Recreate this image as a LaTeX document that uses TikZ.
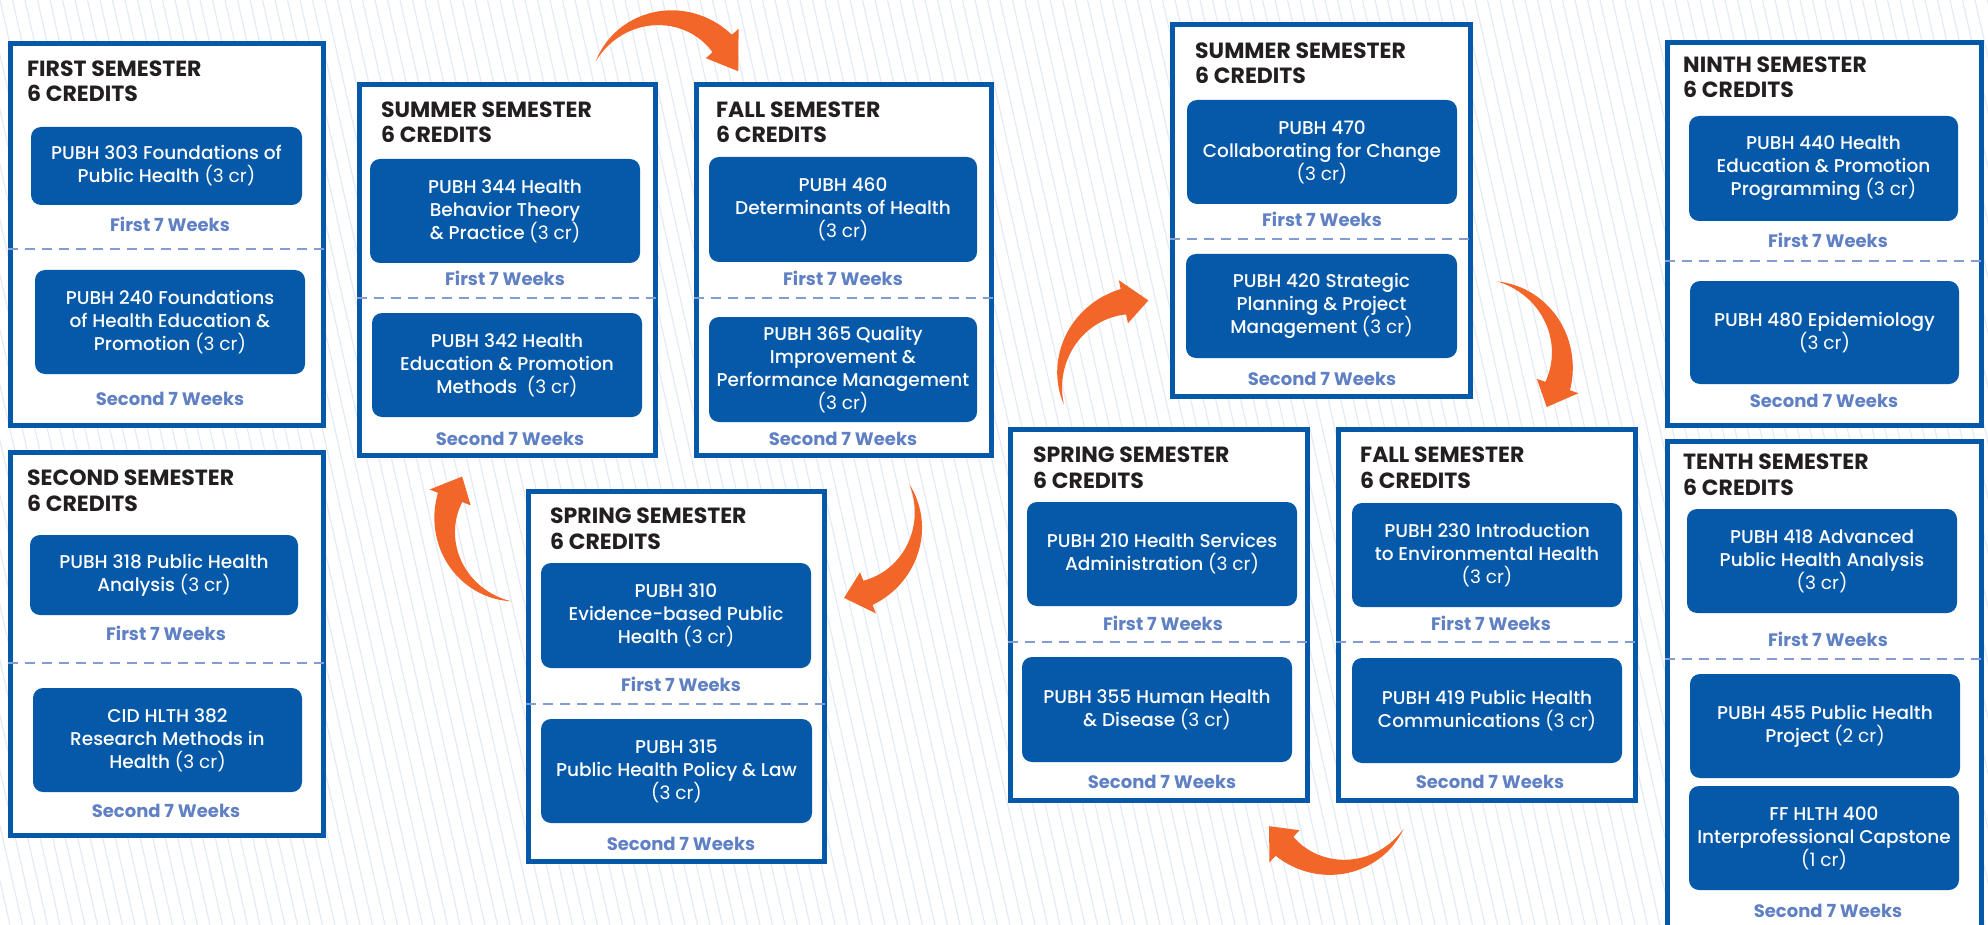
\documentclass[tikz,border=0pt]{standalone}
\usepackage{fontspec}
\setmainfont{Poppins}[UprightFont=* Medium, BoldFont=* Bold]
\newfontfamily\lightfont{Poppins}
\definecolor{boxblue}{RGB}{6,89,168}
\definecolor{weekblue}{RGB}{96,128,196}
\definecolor{dashblue}{RGB}{132,156,210}
\definecolor{titleblack}{RGB}{35,31,32}
\definecolor{arroworange}{RGB}{242,103,41}
\definecolor{stripeblue}{RGB}{229,235,244}
\newcommand\coursesize{\fontsize{18.5}{23}\selectfont}
\newcommand\titlesize{\fontsize{22}{25.5}\selectfont\bfseries}
\newcommand\weekssize{\fontsize{18}{20}\selectfont\bfseries}
\newcommand\credit[1]{{\lightfont(#1 cr)}}
\def\bendarrow(#1,#2)(#3:#4:#5:#6){\fill[bigarrow] plot[samples=40, domain=#4:#5] ({#1+(#3+13*(\x-(#4))/(#5-(#4)))*cos(\x)},{#2+(#3+13*(\x-(#4))/(#5-(#4)))*sin(\x)}) -- ({#1+(#3+22)*cos(#5)},{#2+(#3+22)*sin(#5)}) -- ({#1+#3*cos(#6)},{#2+#3*sin(#6)}) -- ({#1+(#3-22)*cos(#5)},{#2+(#3-22)*sin(#5)}) -- plot[samples=40, domain=#5:#4] ({#1+(#3-13*(\x-(#4))/(#5-(#4)))*cos(\x)},{#2+(#3-13*(\x-(#4))/(#5-(#4)))*sin(\x)}) -- cycle;}
\tikzset{
  semframe/.style={draw=boxblue, line width=5pt, fill=white},
  course/.style={fill=boxblue, rounded corners=10pt, text=white, align=center, font=\coursesize, inner sep=0pt},
  semtitle/.style={anchor=base west, align=left, font=\titlesize, text=titleblack, inner sep=0pt},
  weeks/.style={anchor=base, font=\weekssize, text=weekblue, inner sep=0pt},
  split/.style={draw=dashblue, line width=2.5pt, dash pattern=on 10pt off 7pt},
  bigarrow/.style={fill=arroworange},
  stripe/.style={draw=stripeblue, line width=1.2pt},
}
\begin{document}
\begin{tikzpicture}[x=1pt, y=-1pt]
	%%%%% BACKGROUND %%%%%
	\useasboundingbox (0,0) rectangle (1988,925);
	\clip (0,0) rectangle (1988,925);
	\fill[white] (0,0) rectangle (1988,925);
	\foreach \s in {-18,...,160} \draw[stripe] ({\s*12.5},0) -- ({\s*12.5+210},925);

	%%%%% FRAMES %%%%%
	\node[semframe, minimum width=313pt, minimum height=381pt] (f1) at (166.5,234.5) {};
	\node[semframe, minimum width=313pt, minimum height=383pt] (f2) at (166.5,643.5) {};
	\node[semframe, minimum width=296pt, minimum height=370pt] (f3) at (507,270) {};
	\node[semframe, minimum width=295pt, minimum height=370pt] (f4) at (843.5,270) {};
	\node[semframe, minimum width=296pt, minimum height=370pt] (f5) at (676,676) {};
	\node[semframe, minimum width=298pt, minimum height=371pt] (f6) at (1321,210.5) {};
	\node[semframe, minimum width=297pt, minimum height=371pt] (f7) at (1158.5,614.5) {};
	\node[semframe, minimum width=297pt, minimum height=371pt] (f8) at (1486.5,614.5) {};
	\node[semframe, minimum width=314pt, minimum height=382pt] (f9) at (1824,234) {};
	\node[semframe, minimum width=314pt, minimum height=504pt] (f10) at (1824,693) {};

	\draw[split] (f1.west |- 0,249) -- (f1.east |- 0,249);
	\draw[split] (f2.west |- 0,663) -- (f2.east |- 0,663);
	\draw[split] (f3.west |- 0,298) -- (f3.east |- 0,298);
	\draw[split] (f4.west |- 0,298) -- (f4.east |- 0,298);
	\draw[split] (f5.west |- 0,704) -- (f5.east |- 0,704);
	\draw[split] (f6.west |- 0,239) -- (f6.east |- 0,239);
	\draw[split] (f7.west |- 0,642) -- (f7.east |- 0,642);
	\draw[split] (f8.west |- 0,642) -- (f8.east |- 0,642);
	\draw[split] (f9.west |- 0,261) -- (f9.east |- 0,261);
	\draw[split] (f10.west |- 0,659) -- (f10.east |- 0,659);

	%%%%% TITLES %%%%%
	\node[semtitle] (t1) at (27,102) {FIRST SEMESTER\\6 CREDITS};
	\node[semtitle] (t2) at (27,511) {SECOND SEMESTER\\6 CREDITS};
	\node[semtitle] (t3) at (381,143) {SUMMER SEMESTER\\6 CREDITS};
	\node[semtitle] (t4) at (716,143) {FALL SEMESTER\\6 CREDITS};
	\node[semtitle] (t5) at (550,549) {SPRING SEMESTER\\6 CREDITS};
	\node[semtitle] (t6) at (1195,84) {SUMMER SEMESTER\\6 CREDITS};
	\node[semtitle] (t7) at (1033,488) {SPRING SEMESTER\\6 CREDITS};
	\node[semtitle] (t8) at (1360,488) {FALL SEMESTER\\6 CREDITS};
	\node[semtitle] (t9) at (1683,98) {NINTH SEMESTER\\6 CREDITS};
	\node[semtitle] (t10) at (1683,495) {TENTH SEMESTER\\6 CREDITS};

	%%%%% COURSES %%%%%
	\node[course, minimum width=271pt, minimum height=78pt] (p303) at (166.5,166) {PUBH 303 Foundations of\\Public Health \credit{3}};
	\node[course, minimum width=270pt, minimum height=104pt] (p240) at (170,322) {PUBH 240 Foundations\\of Health Education \&\\Promotion \credit{3}};
	\node[course, minimum width=268pt, minimum height=80pt] (p318) at (164,575) {PUBH 318 Public Health\\Analysis \credit{3}};
	\node[course, minimum width=269pt, minimum height=104pt] (h382) at (167.5,740) {CID HLTH 382\\Research Methods in\\Health \credit{3}};
	\node[course, minimum width=270pt, minimum height=104pt] (p344) at (505,211) {PUBH 344 Health\\Behavior Theory\\\& Practice \credit{3}};
	\node[course, minimum width=270pt, minimum height=104pt] (p342) at (507,365) {PUBH 342 Health\\Education \& Promotion\\Methods\ \ \credit{3}};
	\node[course, minimum width=268pt, minimum height=105pt] (p460) at (843,209.5) {PUBH 460\\Determinants of Health\\\credit{3}};
	\node[course, minimum width=268pt, minimum height=105pt] (p365) at (843,369.5) {PUBH 365 Quality\\Improvement \&\\Performance Management\\\credit{3}};
	\node[course, minimum width=270pt, minimum height=105pt] (p310) at (676,615.5) {PUBH 310\\Evidence-based Public\\Health \credit{3}};
	\node[course, minimum width=271pt, minimum height=104pt] (p315) at (676.5,771) {PUBH 315\\Public Health Policy \& Law\\\credit{3}};
	\node[course, minimum width=270pt, minimum height=104pt] (p470) at (1322,152) {PUBH 470\\Collaborating for Change\\\credit{3}};
	\node[course, minimum width=271pt, minimum height=104pt] (p420) at (1321.5,306) {PUBH 420 Strategic\\Planning \& Project\\Management \credit{3}};
	\node[course, minimum width=270pt, minimum height=104pt] (p210) at (1162,554) {PUBH 210 Health Services\\Administration \credit{3}};
	\node[course, minimum width=270pt, minimum height=105pt] (p355) at (1157,709.5) {PUBH 355 Human Health\\\& Disease \credit{3}};
	\node[course, minimum width=270pt, minimum height=104pt] (p230) at (1487,555) {PUBH 230 Introduction\\to Environmental Health\\\credit{3}};
	\node[course, minimum width=270pt, minimum height=105pt] (p419) at (1487,710.5) {PUBH 419 Public Health\\Communications \credit{3}};
	\node[course, minimum width=269pt, minimum height=105pt] (p440) at (1823.5,168.5) {PUBH 440 Health\\Education \& Promotion\\Programming \credit{3}};
	\node[course, minimum width=269pt, minimum height=103pt] (p480) at (1824.5,332.5) {PUBH 480 Epidemiology\\\credit{3}};
	\node[course, minimum width=270pt, minimum height=104pt] (p418) at (1822,561) {PUBH 418 Advanced\\Public Health Analysis\\\credit{3}};
	\node[course, minimum width=270pt, minimum height=104pt] (p455) at (1825,726) {PUBH 455 Public Health\\Project \credit{2}};
	\node[course, minimum width=270pt, minimum height=104pt] (h400) at (1824,838) {FF HLTH 400\\Interprofessional Capstone\\\credit{1}};

	%%%%% WEEKS %%%%%
	\node[weeks] (w1a) at (170,232) {First 7 Weeks};
	\node[weeks] (w1b) at (170,405) {Second 7 Weeks};
	\node[weeks] (w2a) at (166,640) {First 7 Weeks};
	\node[weeks] (w2b) at (166,817) {Second 7 Weeks};
	\node[weeks] (w3a) at (505,286) {First 7 Weeks};
	\node[weeks] (w3b) at (510,445) {Second 7 Weeks};
	\node[weeks] (w4a) at (843,286) {First 7 Weeks};
	\node[weeks] (w4b) at (843,445) {Second 7 Weeks};
	\node[weeks] (w5a) at (681,691) {First 7 Weeks};
	\node[weeks] (w5b) at (681,850) {Second 7 Weeks};
	\node[weeks] (w6a) at (1322,227) {First 7 Weeks};
	\node[weeks] (w6b) at (1322,385) {Second 7 Weeks};
	\node[weeks] (w7a) at (1163,630) {First 7 Weeks};
	\node[weeks] (w7b) at (1162,788) {Second 7 Weeks};
	\node[weeks] (w8a) at (1491,630) {First 7 Weeks};
	\node[weeks] (w8b) at (1490,788) {Second 7 Weeks};
	\node[weeks] (w9a) at (1828,248) {First 7 Weeks};
	\node[weeks] (w9b) at (1824,407) {Second 7 Weeks};
	\node[weeks] (w10a) at (1828,646) {First 7 Weeks};
	\node[weeks] (w10b) at (1828,917) {Second 7 Weeks};

	%%%%% ARROWS %%%%%
	\bendarrow(665,95)(77:206:318:342)
	\bendarrow(840,520)(78:-27:69:87)
	\bendarrow(522,525)(77:98:201:219)
	\bendarrow(1140,380)(80:162:258:276)
	\bendarrow(1482,360)(80:-79:19:36)
	\bendarrow(1337,790)(77:30:133:152)
\end{tikzpicture}
\end{document}
